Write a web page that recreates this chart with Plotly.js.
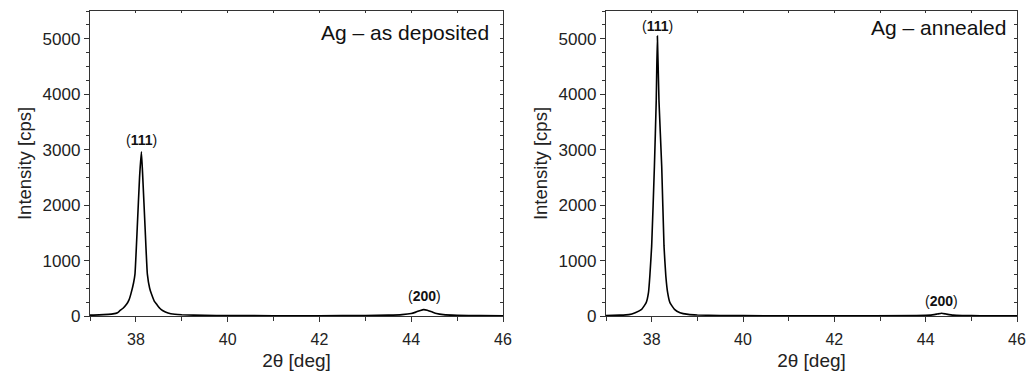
<!DOCTYPE html>
<html>
<head>
<meta charset="utf-8">
<script src="https://cdn.plot.ly/plotly-3.0.1.min.js"></script>
<style>html,body{margin:0;padding:0;background:#fff;}#chart{width:1029px;height:374px;}</style>
</head>
<body>
<div id="chart"></div>
<script>
// Ag – as deposited
const depTheta = [37.0, 37.2, 37.4, 37.5, 37.6, 37.65, 37.72, 37.8, 37.85, 37.89, 37.95, 37.98, 38.03, 38.08, 38.12, 38.15, 38.2, 38.25, 38.3, 38.34, 38.4, 38.45, 38.52, 38.59, 38.7, 38.85, 39.0, 39.5, 40, 41, 42, 43, 43.5, 43.8, 44.0, 44.1, 44.2, 44.27, 44.35, 44.45, 44.55, 44.7, 45, 45.5, 46];
const depIntensity = [15, 20, 30, 38, 60, 95, 140, 215, 290, 395, 600, 755, 1600, 2500, 2960, 2500, 1600, 755, 500, 395, 270, 215, 140, 95, 55, 32, 22, 12, 8, 5, 5, 8, 15, 25, 45, 70, 100, 115, 105, 75, 45, 25, 12, 7, 5];
// Ag – annealed
const annTheta = [37.0, 37.3, 37.5, 37.64, 37.78, 37.88, 37.93, 37.96, 38.0, 38.06, 38.10, 38.125, 38.16, 38.22, 38.27, 38.31, 38.35, 38.40, 38.50, 38.62, 38.8, 39.0, 39.5, 40, 42, 43.8, 44.1, 44.25, 44.35, 44.45, 44.6, 44.8, 45.2, 46];
const annIntensity = [8, 15, 25, 60, 120, 240, 420, 722, 1264, 2700, 3880, 5050, 3880, 2700, 1264, 722, 420, 240, 120, 60, 30, 18, 10, 6, 5, 8, 15, 35, 50, 35, 15, 8, 5, 5];

const panelTitles = ["Ag \u2013 as deposited", "Ag \u2013 annealed"];
const peakLabels = ["(<b>111</b>)", "(<b>200</b>)"];
const depPeaks = {x: [38.12, 44.3], y: [2960, 115]};
const annPeaks = {x: [38.125, 44.35], y: [5050, 50]};
const xTicks = [38, 40, 42, 44, 46];
const yTicks = [0, 1000, 2000, 3000, 4000, 5000];

const FONT = "Liberation Sans, Arial, sans-serif";
const AX = "#333";

const lineStyle = {color: '#000', width: 1.6, shape: 'spline', smoothing: 0.4};
const traces = [
  {x: depTheta, y: depIntensity, xaxis: 'x', yaxis: 'y', mode: 'lines', line: lineStyle, hoverinfo: 'skip'},
  {x: annTheta, y: annIntensity, xaxis: 'x2', yaxis: 'y2', mode: 'lines', line: lineStyle, hoverinfo: 'skip'},
  {x: [], y: [], xaxis: 'x3', yaxis: 'y3', hoverinfo: 'skip'},
  {x: [], y: [], xaxis: 'x4', yaxis: 'y4', hoverinfo: 'skip'}
];

function xAx(domain, anchor) {
  return {
    domain: domain, anchor: anchor, range: [37, 46], tickvals: xTicks, ticks: 'outside', ticklen: 5, tickwidth: 1, tickcolor: AX,
    minor: {dtick: 1, tick0: 37, ticks: 'outside', ticklen: 4, tickcolor: AX},
    showline: true, linecolor: AX, linewidth: 1.2, mirror: true, showgrid: false, zeroline: false,
    ticklabelstandoff: 4,
    tickfont: {family: FONT, size: 16, color: '#222'},
    title: {text: '2\u03b8 [deg]', font: {family: FONT, size: 19, color: '#222'}, standoff: 6}
  };
}
function yAx(domain, anchor) {
  return {
    domain: domain, anchor: anchor, range: [0, 5500], tickvals: yTicks, ticks: 'outside', ticklen: 5, tickwidth: 1, tickcolor: AX,
    minor: {dtick: 250, tick0: 0, ticks: 'outside', ticklen: 3, tickcolor: AX},
    showline: true, linecolor: AX, linewidth: 1.2, mirror: true, showgrid: false, zeroline: false,
    tickfont: {family: FONT, size: 17, color: '#222'},
    title: {text: 'Intensity [cps]', font: {family: FONT, size: 18.5, color: '#222'}, standoff: 6}
  };
}
function xTop(over, anchor) {
  return {overlaying: over, anchor: anchor, side: 'top', range: [37, 46], dtick: 1, tick0: 37, ticks: 'inside', ticklen: 2, tickcolor: AX, showticklabels: false, showgrid: false, zeroline: false, showline: false};
}
function yRight(over, anchor) {
  return {overlaying: over, anchor: anchor, side: 'right', range: [0, 5500], dtick: 250, tick0: 0, ticks: 'inside', ticklen: 3, tickcolor: AX, showticklabels: false, showgrid: false, zeroline: false, showline: false};
}

const yDom = [1 - 316 / 374, 1 - 11 / 374];
const x1Dom = [90 / 1029, 503 / 1029];
const x2Dom = [606 / 1029, 1017 / 1029];

const annotations = [];
function addPeakAnn(xref, yref, peaks, shifts) {
  for (let i = 0; i < peakLabels.length; i++) {
    annotations.push({xref: xref, yref: yref, x: peaks.x[i], y: peaks.y[i], text: peakLabels[i], showarrow: false,
      xanchor: 'center', yanchor: 'bottom', yshift: shifts[i], font: {family: FONT, size: 14, color: '#111'}});
  }
}
addPeakAnn('x', 'y', depPeaks, [2, 4]);
addPeakAnn('x2', 'y2', annPeaks, [0, 2]);
annotations.push({xref: 'paper', yref: 'paper', x: x1Dom[1] - 12 / 1029, y: 1 - 32 / 374, text: panelTitles[0], showarrow: false, xanchor: 'right', yanchor: 'middle', font: {family: FONT, size: 21, color: '#111'}});
annotations.push({xref: 'paper', yref: 'paper', x: x2Dom[1] - 9 / 1029, y: 1 - 28 / 374, text: panelTitles[1], showarrow: false, xanchor: 'right', yanchor: 'middle', font: {family: FONT, size: 21, color: '#111'}});

const layout = {
  width: 1029, height: 374,
  margin: {l: 0, r: 0, t: 0, b: 0},
  paper_bgcolor: '#fff', plot_bgcolor: '#fff',
  showlegend: false,
  xaxis: xAx(x1Dom, 'y'), yaxis: yAx(yDom, 'x'),
  xaxis2: xAx(x2Dom, 'y2'), yaxis2: yAx(yDom, 'x2'),
  xaxis3: xTop('x', 'y3'), yaxis3: yRight('y', 'x3'),
  xaxis4: xTop('x2', 'y4'), yaxis4: yRight('y2', 'x4'),
  annotations: annotations
};

Plotly.newPlot('chart', traces, layout, {staticPlot: true, displayModeBar: false});
</script>
</body>
</html>
